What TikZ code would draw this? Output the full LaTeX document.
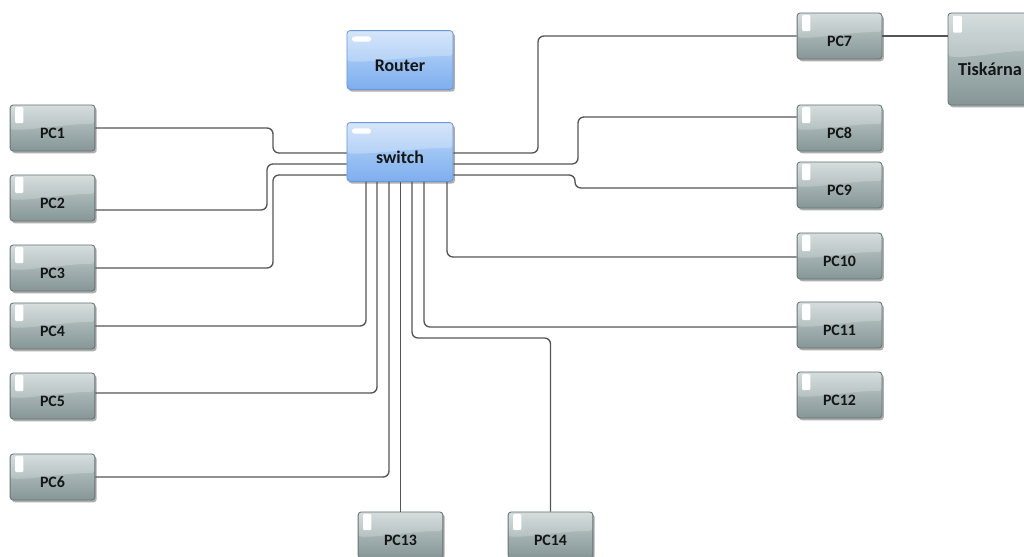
\documentclass[tikz,border=0pt]{standalone}
\usepackage{fontspec}
\setmainfont{Carlito}
\usetikzlibrary{shadows,calc}
\definecolor{wirec}{HTML}{555555}
\definecolor{pctop}{HTML}{CAD4D4}
\definecolor{pcmid}{HTML}{A4B2B2}
\definecolor{pcbot}{HTML}{869696}
\definecolor{pcedge}{HTML}{687474}
\definecolor{nettop}{HTML}{C8DDFA}
\definecolor{netmid}{HTML}{9EC4F4}
\definecolor{netbot}{HTML}{7EAEEE}
\definecolor{netedge}{HTML}{6A98D8}
\definecolor{textc}{HTML}{151515}
\tikzset{
  boxbase/.style={rounded corners=2.2pt, line width=0.6pt, text=textc,
    drop shadow={shadow xshift=1.3pt, shadow yshift=-1.6pt, opacity=0.45, fill=black!70},
    font=\bfseries, text depth=0pt},
  pcbox/.style={boxbase, draw=pcedge, top color=pctop, bottom color=pcbot, middle color=pcmid,
    minimum width=2.12cm, minimum height=1.15cm, font=\bfseries\fontsize{11.3pt}{12pt}\selectfont,
    text height=15.6pt,
    path picture={
      \fill[white,opacity=0.22] (path picture bounding box.north west) -- (path picture bounding box.north east)
        -- ($(path picture bounding box.east)+(0,3pt)$) .. controls ($(path picture bounding box.center)+(10pt,3pt)$) and ($(path picture bounding box.west)+(14pt,-2pt)$) .. ($(path picture bounding box.west)+(0,-1pt)$) -- cycle;
      \fill[white,rounded corners=0.8pt] ([xshift=3.6pt,yshift=-1.4pt]path picture bounding box.north west) rectangle ++(5.8pt,-11.5pt);}},
  netbox/.style={boxbase, draw=netedge, top color=nettop, bottom color=netbot, middle color=netmid,
    minimum width=2.65cm, minimum height=1.47cm, font=\bfseries\fontsize{12.7pt}{14pt}\selectfont,
    text height=16.6pt,
    path picture={
      \fill[white,opacity=0.25] (path picture bounding box.north west) -- (path picture bounding box.north east)
        -- ($(path picture bounding box.east)+(0,3pt)$) .. controls ($(path picture bounding box.center)+(12pt,3pt)$) and ($(path picture bounding box.west)+(16pt,-2pt)$) .. ($(path picture bounding box.west)+(0,-1pt)$) -- cycle;
      \fill[white,rounded corners=1.7pt] ([xshift=3.6pt,yshift=-4.2pt]path picture bounding box.north west) rectangle ++(13.5pt,-3.6pt);}},
  printbox/.style={pcbox, minimum width=2.1cm, minimum height=2.3cm,
    font=\bfseries\fontsize{13pt}{14pt}\selectfont, text height=24pt,
    path picture={
      \fill[white,opacity=0.22] (path picture bounding box.north west) -- (path picture bounding box.north east)
        -- ($(path picture bounding box.east)+(0,6pt)$) .. controls ($(path picture bounding box.center)+(10pt,6pt)$) and ($(path picture bounding box.west)+(14pt,0pt)$) .. ($(path picture bounding box.west)+(0,2pt)$) -- cycle;
      \fill[white,rounded corners=0.8pt] ([xshift=3.6pt,yshift=-2pt]path picture bounding box.north west) rectangle ++(6.2pt,-12pt);}},
  wire/.style={draw=wirec, line width=0.95pt, rounded corners=4.2pt}
}
\begin{document}
\begin{tikzpicture}[x=0.025cm,y=-0.025cm]
\useasboundingbox (0,0) rectangle (1024,557);
% network devices
\node[netbox] (router) at (400,60) {Router};
\node[netbox] (switch) at (400,152) {switch};
% left column
\node[pcbox] (PC1) at (52.5,128) {PC1};
\node[pcbox] (PC2) at (52.5,198) {PC2};
\node[pcbox] (PC3) at (52.5,268) {PC3};
\node[pcbox] (PC4) at (52.5,326) {PC4};
\node[pcbox] (PC5) at (52.5,396) {PC5};
\node[pcbox] (PC6) at (52.5,477) {PC6};
% right column
\node[pcbox] (PC7) at (839.5,36) {PC7};
\node[pcbox] (PC8) at (839.5,128) {PC8};
\node[pcbox] (PC9) at (839.5,185) {PC9};
\node[pcbox] (PC10) at (839.5,256) {PC10};
\node[pcbox] (PC11) at (839.5,325) {PC11};
\node[pcbox] (PC12) at (839.5,395) {PC12};
% bottom
\node[pcbox] (PC13) at (400.5,535) {PC13};
\node[pcbox] (PC14) at (550.5,535) {PC14};
% printer
\node[printbox] (Tiskarna) at (990,59) {Tiskárna};
% connectors, left
\draw[wire] (PC1.east) -| (273,153) -- (switch.west |- 0,153);
\draw[wire] (PC2.east |- 0,210) -| (267,164) -- (switch.west |- 0,164);
\draw[wire] (PC3.east) -| (273,175) -- (switch.west |- 0,175);
\draw[wire] (PC4.east) -| (366,0 |- switch.south);
\draw[wire] (PC5.east |- 0,393) -| (377,0 |- switch.south);
\draw[wire] (PC6.east) -| (389,0 |- switch.south);
% connectors, bottom
\draw[wire] (PC13.north) -- (PC13.north |- switch.south);
\draw[wire] (412,0 |- switch.south) -- (412,338) -| (PC14.north);
\draw[wire] (424,0 |- switch.south) |- (PC11.west |- 0,327);
\draw[wire] (447,0 |- switch.south) |- (PC10.west |- 0,257);
% connectors, right
\draw[wire] (switch.east |- 0,153) -| (538,36) -- (PC7.west);
\draw[wire] (switch.east |- 0,164) -| (578,117) -- (PC8.west |- 0,117);
\draw[wire] (switch.east |- 0,175) -| (575,188) -- (PC9.west |- 0,188);
\draw[wire] (PC7.east) -- (Tiskarna.west |- PC7.east);
\end{tikzpicture}
\end{document}
